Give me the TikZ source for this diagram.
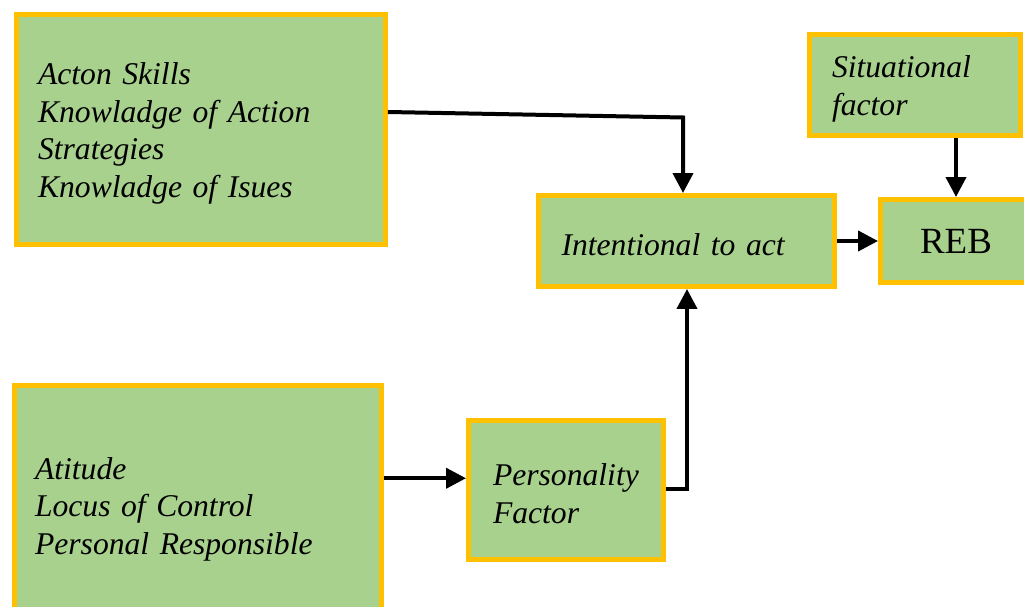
\documentclass[tikz,border=0pt]{standalone}
\usepackage{fontspec}
\setmainfont{Liberation Serif}[ItalicFont={Liberation Serif Italic}, BoldFont={Liberation Serif Bold}]
\usetikzlibrary{arrows.meta,positioning}

\definecolor{boxgreen}{HTML}{A9D18E}
\definecolor{boxgold}{HTML}{FFC000}

\tikzset{
  box/.style={draw=boxgold, fill=boxgreen, line width=0.1cm, align=left,
    font=\itshape\fontsize{18}{21.5}\selectfont, inner ysep=0pt, text height=17pt},
  conn/.style={line width=0.08cm, -{Triangle[length=0.4cm, width=0.4cm]}}
}

\begin{document}
\begin{tikzpicture}[x=0.02cm, y=-0.02cm]
  \useasboundingbox (0,0) rectangle (1024,607);
  \clip (0,0) rectangle (1024,607);

  % boxes
  \node[box, inner xsep=0.43cm, text width=6.52cm, minimum height=4.6cm] (skills) at (201,129.5)
    {Acton Skills\\Knowladge of Action\\Strategies\\Knowladge of Isues};
  \node[box, inner xsep=0.45cm, text width=3.32cm, minimum height=2.02cm] (situ) at (915,85)
    {Situational\\factor};
  \node[box, inner xsep=0.47cm, text width=5.0cm, minimum height=1.82cm] (intent) at (686.5,241)
    {Intentional to act};
  \node[box, font=\fontsize{21}{25}\selectfont, text height=14pt, minimum width=3.02cm, minimum height=1.66cm] (reb) at (956,241)
    {REB};
  \node[box, inner xsep=0.41cm, text width=6.52cm, minimum height=4.79cm] (att) at (198,505.25)
    {Atitude\\Locus of Control\\Personal Responsible};
  \node[box, inner xsep=0.49cm, text width=2.92cm, minimum height=2.78cm] (person) at (566,490)
    {Personality\\Factor};

  % connectors
  \coordinate (k1) at (683,117.5);
  \draw[conn] ([yshift=0.35cm]skills.east) -- (k1) -- (k1 |- intent.north);
  \draw[conn] (reb.north |- situ.south) -- (reb.north);
  \draw[conn] (intent.east) -- (reb.west);
  \draw[conn] ([yshift=0.54cm]att.east) coordinate (a1) -- (a1 -| person.west);
  \coordinate (p1) at (687,489);
  \draw[conn] (person.east |- p1) -- (p1) -- (p1 |- intent.south);
\end{tikzpicture}
\end{document}
